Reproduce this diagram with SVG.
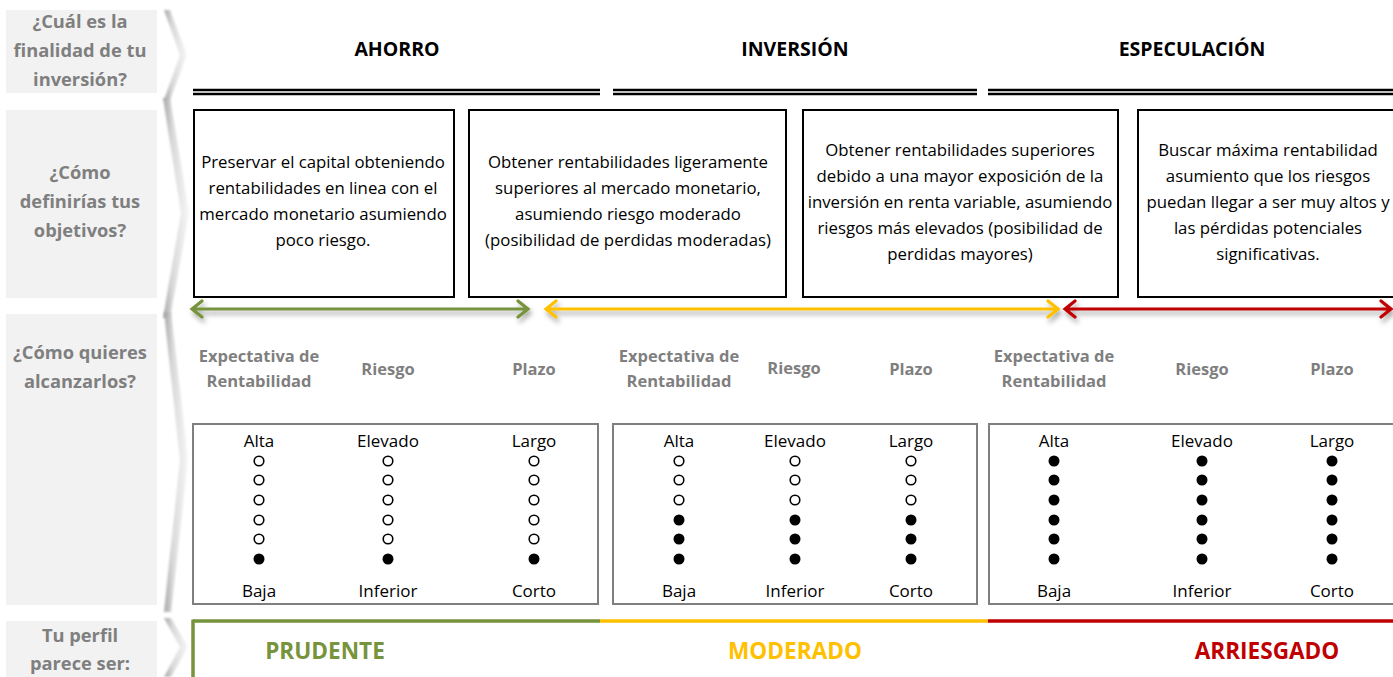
<svg xmlns="http://www.w3.org/2000/svg" width="1393" height="677" viewBox="0 0 1393 677">
<defs>
<linearGradient id="chev" x1="0" y1="0" x2="1" y2="0">
<stop offset="0" stop-color="#9a9a9a" stop-opacity="0.85"/>
<stop offset="0.35" stop-color="#d9d9d9"/>
<stop offset="1" stop-color="#f7f7f7"/>
</linearGradient>
<filter id="sh" x="-5%" y="-100%" width="110%" height="400%">
<feDropShadow dx="2" dy="4" stdDeviation="2.5" flood-color="#000" flood-opacity="0.35"/>
</filter>
<filter id="blur" x="-50%" y="-10%" width="200%" height="120%">
<feGaussianBlur stdDeviation="1.2"/>
</filter>
</defs>
<style>
.lab{fill:#f2f2f2}
.lt{font-family:"Open Sans","Liberation Sans",sans-serif;font-weight:bold;font-size:18.3px;fill:#7f7f7f;text-anchor:middle}
.hd{font-family:"Open Sans","Liberation Sans",sans-serif;font-weight:bold;font-size:19.5px;fill:#000;text-anchor:middle}
.bx{fill:#fff;stroke:#000;stroke-width:2}
.bt{font-family:"Open Sans","Liberation Sans",sans-serif;font-size:16.8px;fill:#000;text-anchor:middle}
.sub{font-family:"Open Sans","Liberation Sans",sans-serif;font-weight:bold;font-size:16.5px;fill:#7f7f7f;text-anchor:middle}
.gb{fill:#fff;stroke:#7f7f7f;stroke-width:2}
.sc{font-family:"Open Sans","Liberation Sans",sans-serif;font-size:17px;fill:#000;text-anchor:middle}
.o{fill:#fff;stroke:#000;stroke-width:1.6}
.f{fill:#000}
.dl{stroke:#000;stroke-width:2.6}
.arr{fill:none;stroke-width:3.2;stroke-linecap:round;stroke-linejoin:miter}
.pf{font-family:"Open Sans","Liberation Sans",sans-serif;font-weight:bold;font-size:22.6px;text-anchor:middle}
.ch{fill:url(#chev);filter:url(#blur)}
</style>

<g id="labels">
<g id="label-finalidad">
<rect class="lab" x="6" y="10" width="151" height="83"/>
<text class="lt" x="80" y="28">¿Cuál es la</text>
<text class="lt" x="80" y="57">finalidad de tu</text>
<text class="lt" x="80" y="86">inversión?</text>
<polygon class="ch" points="164,10 170,10 187,55 170,100 164,100 180,55"/>
</g>
<g id="label-objetivos">
<rect class="lab" x="6" y="110" width="151" height="188"/>
<text class="lt" x="80" y="179">¿Cómo</text>
<text class="lt" x="80" y="208">definirías tus</text>
<text class="lt" x="80" y="237">objetivos?</text>
<polygon class="ch" points="163,98 170,98 189,213 170,318 163,318 181,213"/>
</g>
<g id="label-alcanzarlos">
<rect class="lab" x="6" y="314" width="151" height="291"/>
<text class="lt" x="80" y="359">¿Cómo quieres</text>
<text class="lt" x="80" y="388">alcanzarlos?</text>
<polygon class="ch" points="164,312 171,312 188,460 171,612 164,612 180,460"/>
</g>
<g id="label-perfil">
<rect class="lab" x="6" y="621" width="151" height="56"/>
<text class="lt" x="80" y="642">Tu perfil</text>
<text class="lt" x="80" y="670">parece ser:</text>
<polygon class="ch" points="164,618 171,618 188,647 171,677 164,677 180,647"/>
</g>
</g>

<g id="headers">
<g id="h-ahorro">
<text class="hd" x="397" y="56">AHORRO</text>
<line class="dl" x1="193" y1="90" x2="600" y2="90"/>
<line class="dl" x1="193" y1="94" x2="600" y2="94"/>
</g>
<g id="h-inversion">
<text class="hd" x="795" y="56">INVERSIÓN</text>
<line class="dl" x1="613" y1="90" x2="977" y2="90"/>
<line class="dl" x1="613" y1="94" x2="977" y2="94"/>
</g>
<g id="h-especulacion">
<text class="hd" x="1192" y="56">ESPECULACIÓN</text>
<line class="dl" x1="988" y1="90" x2="1393" y2="90"/>
<line class="dl" x1="988" y1="94" x2="1393" y2="94"/>
</g>
</g>

<g id="objetivos">
<g id="obj-1">
<rect class="bx" x="194" y="110" width="260" height="187"/>
<text class="bt" x="323" y="168">Preservar el capital obteniendo</text>
<text class="bt" x="323" y="194">rentabilidades en linea con el</text>
<text class="bt" x="323" y="220">mercado monetario asumiendo</text>
<text class="bt" x="323" y="246">poco riesgo.</text>
</g>
<g id="obj-2">
<rect class="bx" x="469" y="110" width="317" height="187"/>
<text class="bt" x="628" y="168">Obtener rentabilidades ligeramente</text>
<text class="bt" x="628" y="194">superiores al mercado monetario,</text>
<text class="bt" x="628" y="220">asumiendo riesgo moderado</text>
<text class="bt" x="628" y="246">(posibilidad de perdidas moderadas)</text>
</g>
<g id="obj-3">
<rect class="bx" x="803" y="110" width="315" height="187"/>
<text class="bt" x="960" y="156">Obtener rentabilidades superiores</text>
<text class="bt" x="960" y="182">debido a una mayor exposición de la</text>
<text class="bt" x="960" y="208">inversión en renta variable, asumiendo</text>
<text class="bt" x="960" y="234">riesgos más elevados (posibilidad de</text>
<text class="bt" x="960" y="260">perdidas mayores)</text>
</g>
<g id="obj-4">
<rect class="bx" x="1138" y="110" width="265" height="187"/>
<text class="bt" x="1268" y="156">Buscar máxima rentabilidad</text>
<text class="bt" x="1268" y="182">asumiento que los riesgos</text>
<text class="bt" x="1268" y="208">puedan llegar a ser muy altos y</text>
<text class="bt" x="1268" y="234">las pérdidas potenciales</text>
<text class="bt" x="1268" y="260">significativas.</text>
</g>
</g>

<g id="connectors" filter="url(#sh)">
<path class="arr" stroke="#77933c" d="M192,309 H528 M202,301 L192,309 L202,317 M518,301 L528,309 L518,317"/>
<path class="arr" stroke="#ffc000" d="M546,309 H1058 M556,301 L546,309 L556,317 M1048,301 L1058,309 L1048,317"/>
<path class="arr" stroke="#c00000" d="M1065,309 H1391 M1075,301 L1065,309 L1075,317 M1381,301 L1391,309 L1381,317"/>
</g>

<g id="escalas">
<g id="esc-ahorro">
<text class="sub" x="259" y="362">Expectativa de</text>
<text class="sub" x="259" y="387">Rentabilidad</text>
<text class="sub" x="388" y="375">Riesgo</text>
<text class="sub" x="534" y="375">Plazo</text>
<rect class="gb" x="193" y="424" width="405" height="180"/>
<text class="sc" x="259" y="447">Alta</text><text class="sc" x="388" y="447">Elevado</text><text class="sc" x="534" y="447">Largo</text>
<text class="sc" x="259" y="597">Baja</text><text class="sc" x="388" y="597">Inferior</text><text class="sc" x="534" y="597">Corto</text>
<circle class="o" cx="259" cy="461" r="4.8"/><circle class="o" cx="259" cy="480" r="4.8"/><circle class="o" cx="259" cy="500" r="4.8"/><circle class="o" cx="259" cy="520" r="4.8"/><circle class="o" cx="259" cy="539" r="4.8"/><circle class="f" cx="259" cy="559" r="5.5"/>
<circle class="o" cx="388" cy="461" r="4.8"/><circle class="o" cx="388" cy="480" r="4.8"/><circle class="o" cx="388" cy="500" r="4.8"/><circle class="o" cx="388" cy="520" r="4.8"/><circle class="o" cx="388" cy="539" r="4.8"/><circle class="f" cx="388" cy="559" r="5.5"/>
<circle class="o" cx="534" cy="461" r="4.8"/><circle class="o" cx="534" cy="480" r="4.8"/><circle class="o" cx="534" cy="500" r="4.8"/><circle class="o" cx="534" cy="520" r="4.8"/><circle class="o" cx="534" cy="539" r="4.8"/><circle class="f" cx="534" cy="559" r="5.5"/>
</g>
<g id="esc-inversion">
<text class="sub" x="679" y="362">Expectativa de</text>
<text class="sub" x="679" y="387">Rentabilidad</text>
<text class="sub" x="794" y="374">Riesgo</text>
<text class="sub" x="911" y="375">Plazo</text>
<rect class="gb" x="613" y="424" width="364" height="180"/>
<text class="sc" x="679" y="447">Alta</text><text class="sc" x="795" y="447">Elevado</text><text class="sc" x="911" y="447">Largo</text>
<text class="sc" x="679" y="597">Baja</text><text class="sc" x="795" y="597">Inferior</text><text class="sc" x="911" y="597">Corto</text>
<circle class="o" cx="679" cy="461" r="4.8"/><circle class="o" cx="679" cy="480" r="4.8"/><circle class="o" cx="679" cy="500" r="4.8"/><circle class="f" cx="679" cy="520" r="5.5"/><circle class="f" cx="679" cy="539" r="5.5"/><circle class="f" cx="679" cy="559" r="5.5"/>
<circle class="o" cx="795" cy="461" r="4.8"/><circle class="o" cx="795" cy="480" r="4.8"/><circle class="o" cx="795" cy="500" r="4.8"/><circle class="f" cx="795" cy="520" r="5.5"/><circle class="f" cx="795" cy="539" r="5.5"/><circle class="f" cx="795" cy="559" r="5.5"/>
<circle class="o" cx="911" cy="461" r="4.8"/><circle class="o" cx="911" cy="480" r="4.8"/><circle class="o" cx="911" cy="500" r="4.8"/><circle class="f" cx="911" cy="520" r="5.5"/><circle class="f" cx="911" cy="539" r="5.5"/><circle class="f" cx="911" cy="559" r="5.5"/>
</g>
<g id="esc-especulacion">
<text class="sub" x="1054" y="362">Expectativa de</text>
<text class="sub" x="1054" y="387">Rentabilidad</text>
<text class="sub" x="1202" y="375">Riesgo</text>
<text class="sub" x="1332" y="375">Plazo</text>
<rect class="gb" x="989" y="424" width="414" height="180"/>
<text class="sc" x="1054" y="447">Alta</text><text class="sc" x="1202" y="447">Elevado</text><text class="sc" x="1332" y="447">Largo</text>
<text class="sc" x="1054" y="597">Baja</text><text class="sc" x="1202" y="597">Inferior</text><text class="sc" x="1332" y="597">Corto</text>
<circle class="f" cx="1054" cy="461" r="5.5"/><circle class="f" cx="1054" cy="480" r="5.5"/><circle class="f" cx="1054" cy="500" r="5.5"/><circle class="f" cx="1054" cy="520" r="5.5"/><circle class="f" cx="1054" cy="539" r="5.5"/><circle class="f" cx="1054" cy="559" r="5.5"/>
<circle class="f" cx="1202" cy="461" r="5.5"/><circle class="f" cx="1202" cy="480" r="5.5"/><circle class="f" cx="1202" cy="500" r="5.5"/><circle class="f" cx="1202" cy="520" r="5.5"/><circle class="f" cx="1202" cy="539" r="5.5"/><circle class="f" cx="1202" cy="559" r="5.5"/>
<circle class="f" cx="1332" cy="461" r="5.5"/><circle class="f" cx="1332" cy="480" r="5.5"/><circle class="f" cx="1332" cy="500" r="5.5"/><circle class="f" cx="1332" cy="520" r="5.5"/><circle class="f" cx="1332" cy="539" r="5.5"/><circle class="f" cx="1332" cy="559" r="5.5"/>
</g>
</g>

<g id="perfiles">
<g id="p-prudente">
<line x1="193" y1="621" x2="600" y2="621" stroke="#77933c" stroke-width="3.5"/>
<line x1="193" y1="619.5" x2="193" y2="677" stroke="#77933c" stroke-width="3.5"/>
<text class="pf" x="325" y="659" fill="#77933c">PRUDENTE</text>
</g>
<g id="p-moderado">
<line x1="600" y1="621" x2="988" y2="621" stroke="#ffc000" stroke-width="3.5"/>
<text class="pf" x="795" y="659" fill="#ffc000">MODERADO</text>
</g>
<g id="p-arriesgado">
<line x1="988" y1="621" x2="1393" y2="621" stroke="#c00000" stroke-width="3.5"/>
<text class="pf" x="1267" y="659" fill="#c00000">ARRIESGADO</text>
</g>
</g>
</svg>
